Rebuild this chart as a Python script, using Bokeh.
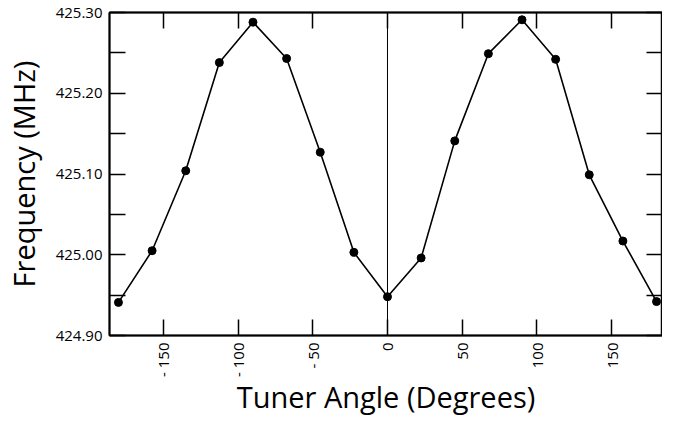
import math
from bokeh.plotting import figure
from bokeh.models import Range1d, FixedTicker, LinearAxis, Span, ColumnDataSource
from bokeh.embed import file_html
from bokeh.resources import INLINE

# ---- data ----
angles = [-180, -157.5, -135, -112.5, -90, -67.5, -45, -22.5, 0,
          22.5, 45, 67.5, 90, 112.5, 135, 157.5, 180]
freqs = [424.941, 425.005, 425.104, 425.238, 425.288, 425.243, 425.127, 425.003, 424.948,
         424.996, 425.141, 425.249, 425.291, 425.242, 425.099, 425.017, 424.942]

x_ticks = [-150, -100, -50, 0, 50, 100, 150]
x_tick_labels = ["- 150", "- 100", "- 50", "0", "50", "100", "150"]
y_ticks = [424.90, 425.00, 425.10, 425.20, 425.30]
y_tick_labels = ["424.90", "425.00", "425.10", "425.20", "425.30"]
y_minor = [424.95, 425.05, 425.15, 425.25]

FONT = "Open Sans"

src = ColumnDataSource(dict(x=angles, y=freqs))

p = figure(width=662, height=418, output_backend="svg", toolbar_location=None,
           x_range=Range1d(-186, 184), y_range=Range1d(424.90, 425.30),
           min_border_left=97, min_border_top=12, min_border_right=0, min_border_bottom=70)
p.background_fill_color = "white"
p.border_fill_color = "white"
p.outline_line_color = "black"
p.outline_line_width = 1.5
p.grid.visible = False

p.add_layout(Span(location=0, dimension="height", line_color="black", line_width=1))

p.line("x", "y", source=src, line_color="black", line_width=1.6)
p.scatter("x", "y", source=src, size=8, fill_color="black", line_color="black")

# bottom axis
xa = p.xaxis[0]
xa.ticker = FixedTicker(ticks=x_ticks)
xa.major_label_overrides = dict(zip(x_ticks, x_tick_labels))
xa.major_label_orientation = math.pi / 2
xa.axis_label = "Tuner Angle (Degrees)"

# left axis
ya = p.yaxis[0]
ya.ticker = FixedTicker(ticks=y_ticks, minor_ticks=y_minor)
ya.major_label_overrides = dict(zip(y_ticks, y_tick_labels))
ya.axis_label = "Frequency (MHz)"

# top & right axes (ticks only, no labels)
ta = LinearAxis(ticker=FixedTicker(ticks=[], minor_ticks=x_ticks))
ra = LinearAxis(ticker=FixedTicker(ticks=[], minor_ticks=y_ticks + y_minor))
p.add_layout(ta, "above")
p.add_layout(ra, "right")

for ax in (xa, ya, ta, ra):
    ax.axis_line_color = "black"
    ax.axis_line_width = 2
    ax.major_tick_in = 16
    ax.major_tick_out = 0
    ax.major_tick_line_width = 1.5
    ax.major_tick_line_color = "black"
    ax.minor_tick_in = 16
    ax.minor_tick_out = 0
    ax.minor_tick_line_width = 1.5
    ax.minor_tick_line_color = "black"
    ax.major_label_text_font = FONT
    ax.major_label_text_color = "black"

xa.minor_tick_line_color = None

for ax in (xa, ya):
    ax.major_label_text_font_size = "15px"
    ax.axis_label_text_font = FONT
    ax.axis_label_text_font_size = "29px"
    ax.axis_label_text_font_style = "normal"
    ax.axis_label_text_color = "black"

xa.major_label_standoff = 7
xa.axis_label_standoff = -3
ya.major_label_standoff = 7
ya.axis_label_standoff = 10

open("out.html", "w").write(file_html(p, INLINE))
